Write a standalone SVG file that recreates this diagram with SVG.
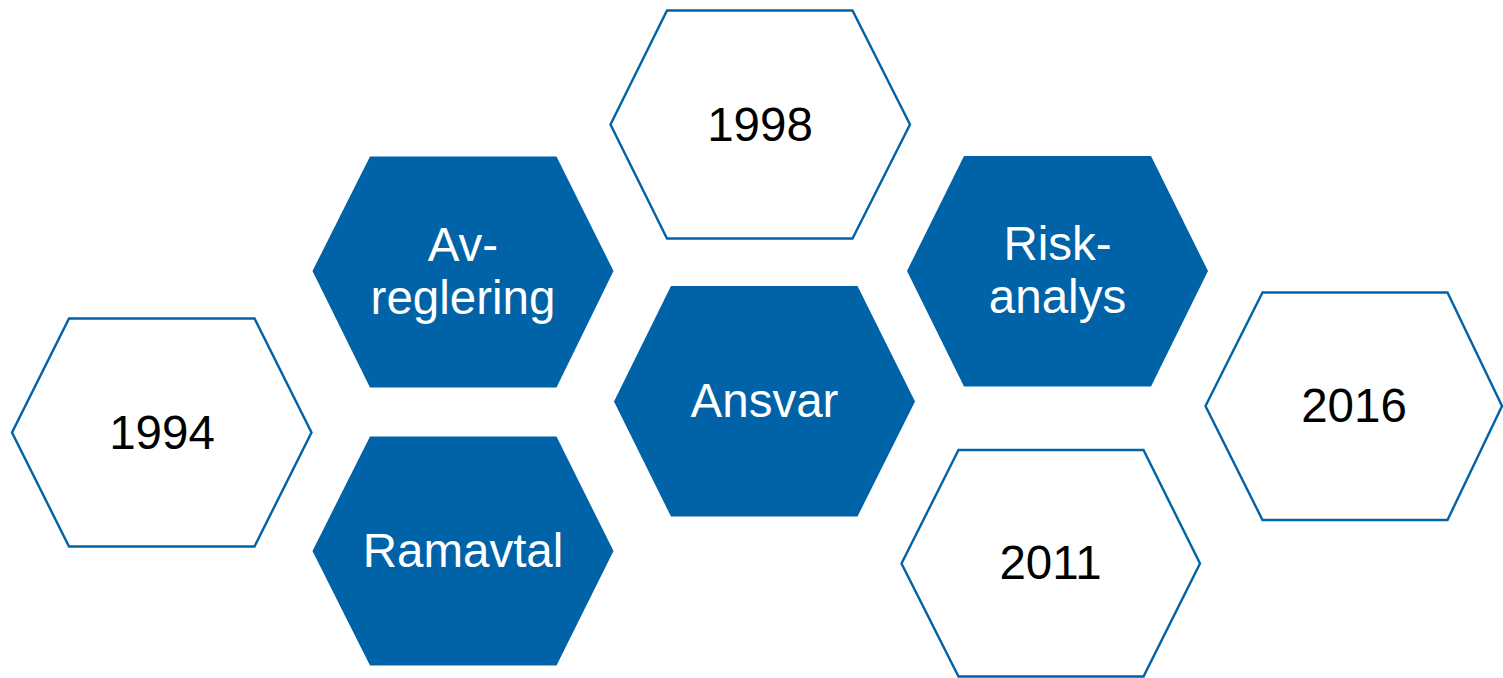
<svg xmlns="http://www.w3.org/2000/svg" width="1503" height="678" viewBox="0 0 1503 678">
<style>
.outline{fill:#ffffff;stroke:#0062A7;stroke-width:2.4}
.solid{fill:#0062A7;stroke:none}
.dark{font-family:"Liberation Sans",Arial,sans-serif;font-size:47.5px;fill:#000000;text-anchor:middle}
.light{font-family:"Liberation Sans",Arial,sans-serif;font-size:47.5px;fill:#ffffff;text-anchor:middle}
</style>
<rect width="1503" height="678" fill="#ffffff"/>
<g id="connectors"></g>
<g id="n1998">
<polygon class="outline" points="610.5,124.5 667,10.5 852.5,10.5 910,124.5 852.5,238.5 667,238.5"/>
<text class="dark" x="760" y="140.5">1998</text>
</g>
<g id="avreglering">
<polygon class="solid" points="312.5,271 370,156.5 556.5,156.5 613.5,271 556.5,387.5 370,387.5"/>
<text class="light" x="463" y="261">Av-</text>
<text class="light" x="463" y="313.5">reglering</text>
</g>
<g id="n1994">
<polygon class="outline" points="12,432.5 69,318.5 254.5,318.5 311.5,432.5 254.5,546.5 69,546.5"/>
<text class="dark" x="162" y="448.5">1994</text>
</g>
<g id="ramavtal">
<polygon class="solid" points="312.5,551 370,436.5 556.5,436.5 613.5,551 556.5,665.5 370,665.5"/>
<text class="light" x="463" y="567">Ramavtal</text>
</g>
<g id="ansvar">
<polygon class="solid" points="614,401.5 671,286 857.5,286 915,401.5 857.5,516.5 671,516.5"/>
<text class="light" x="764.5" y="417">Ansvar</text>
</g>
<g id="riskanalys">
<polygon class="solid" points="907,271 964,156 1151,156 1208,271 1151,386.5 964,386.5"/>
<text class="light" x="1057.5" y="260">Risk-</text>
<text class="light" x="1057.5" y="313">analys</text>
</g>
<g id="n2016">
<polygon class="outline" points="1205.5,406 1262.5,292.5 1447.5,292.5 1502,406 1447.5,520 1262.5,520"/>
<text class="dark" x="1354" y="422">2016</text>
</g>
<g id="n2011">
<polygon class="outline" points="901.5,563.5 958.5,450 1143.5,450 1200,563.5 1143.5,676.5 958.5,676.5"/>
<text class="dark" x="1050.5" y="578.5">2011</text>
</g>
</svg>
